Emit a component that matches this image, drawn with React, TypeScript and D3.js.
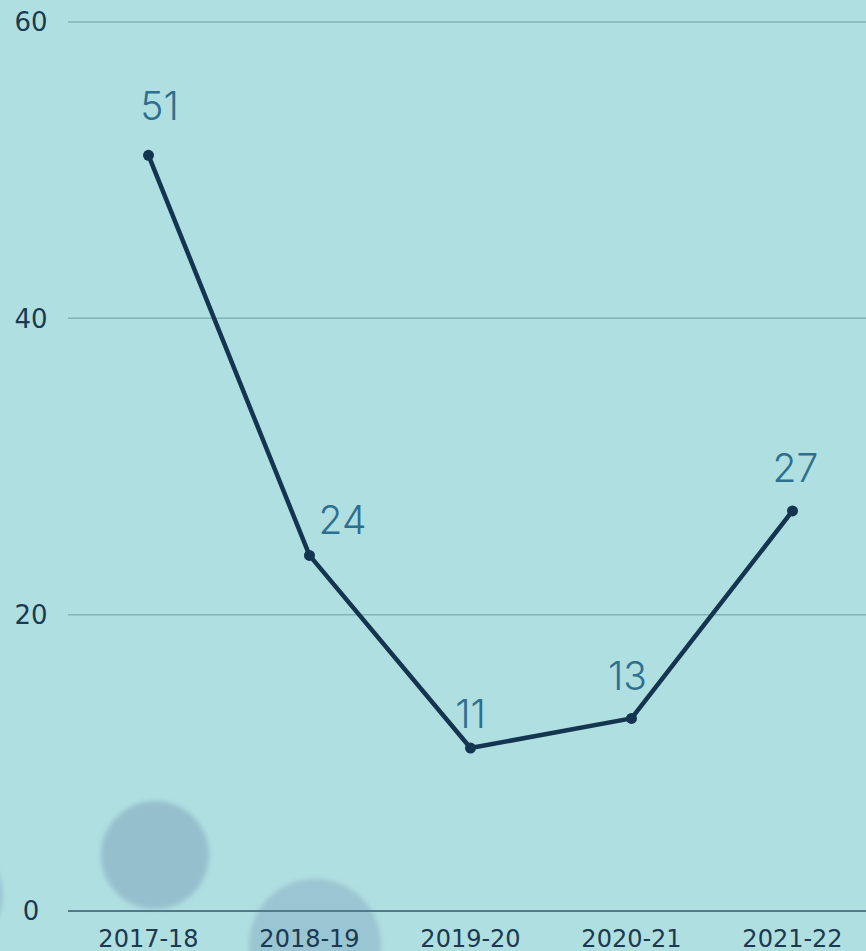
import React from "react";
import * as d3 from "d3";

const categories = ["2017-18", "2018-19", "2019-20", "2020-21", "2021-22"];
const values = [51, 24, 11, 13, 27];
const yTicks = [0, 20, 40, 60];
// label offsets relative to each point (layout, not data)
const labelDx = [11, 33, 0, -4, 3];
const labelDy = [-35, -21, -20, -28, -29];

const W = 866;
const H = 951;

export default function App() {
  const x = d3.scalePoint<string>().domain(categories).range([68, 873]).padding(0.5);
  const y = d3.scaleLinear().domain([0, 60]).range([911, 22]);
  const line = d3
    .line<number>()
    .x((_, i) => x(categories[i]) as number)
    .y((d) => y(d));

  return (
    <div style={{ position: "absolute", left: 0, top: 0 }}>
      <svg width={W} height={H} style={{ display: "block" }}>
        <defs>
          <filter id="blur" x="-50%" y="-50%" width="200%" height="200%">
            <feGaussianBlur stdDeviation="2.5" />
          </filter>
        </defs>
        <rect x={0} y={0} width={W} height={H} fill="#b0dfe1" />
        <g filter="url(#blur)">
          <circle cx={155} cy={855} r={54} fill="#95bfcd" />
          <circle cx={315} cy={945} r={66} fill="#9ac5d2" />
          <circle cx={-50} cy={895} r={53} fill="#9ac5d2" />
        </g>
        {yTicks.map((t) => (
          <g key={t}>
            <line
              x1={68}
              x2={W}
              y1={y(t)}
              y2={y(t)}
              stroke={t === 0 ? "#517b8b" : "#82b3b7"}
              strokeWidth={t === 0 ? 2 : 1.5}
            />
            <text
              x={31}
              y={y(t)}
              dy="0.36em"
              textAnchor="middle"
              fontFamily="'DejaVu Sans', sans-serif"
              fontSize={26}
              fill="#1b3a4f"
            >
              {t}
            </text>
          </g>
        ))}
        {categories.map((c) => (
          <text
            key={c}
            x={x(c)}
            y={947}
            textAnchor="middle"
            fontFamily="'DejaVu Sans', sans-serif"
            fontSize={24}
            fill="#1b3a4f"
          >
            {c}
          </text>
        ))}
        <path d={line(values) || ""} fill="none" stroke="#14354f" strokeWidth={4.5} strokeLinejoin="round" />
        {values.map((v, i) => (
          <circle key={i} cx={x(categories[i])} cy={y(v)} r={5.5} fill="#14354f" />
        ))}
        {values.map((v, i) => (
          <text
            key={"l" + i}
            x={(x(categories[i]) as number) + labelDx[i]}
            y={y(v) + labelDy[i]}
            textAnchor="middle"
            fontFamily="Inter, sans-serif"
            fontWeight={300}
            fontSize={39}
            fill="#2e6f8f"
          >
            {v}
          </text>
        ))}
      </svg>
    </div>
  );
}
